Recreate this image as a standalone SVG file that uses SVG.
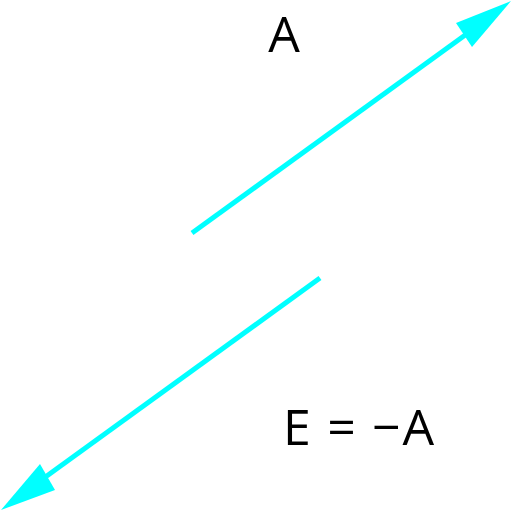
<svg xmlns="http://www.w3.org/2000/svg" width="512" height="512" viewBox="0 0 512 512">
<style>
.arr{stroke:#00ffff;stroke-width:5;fill:none}
.head{fill:#00ffff}
.lbl{font-family:"Open Sans","Noto Sans",sans-serif;font-size:50px;fill:#000}
</style>
<rect width="512" height="512" fill="#fff"/>
<g id="connectors">
<line class="arr" x1="192" y1="233" x2="468" y2="33"/>
<polygon class="head" points="511,1 472,47 456,23"/>
<line class="arr" x1="320" y1="278" x2="44" y2="478"/>
<polygon class="head" points="1,510 40,464 55,490"/>
</g>
<g id="labelA"><text class="lbl" x="284" y="52" text-anchor="middle">A</text></g>
<g id="labelE"><text class="lbl" x="283" y="445" textLength="151" lengthAdjust="spacing">E = −A</text></g>
</svg>
